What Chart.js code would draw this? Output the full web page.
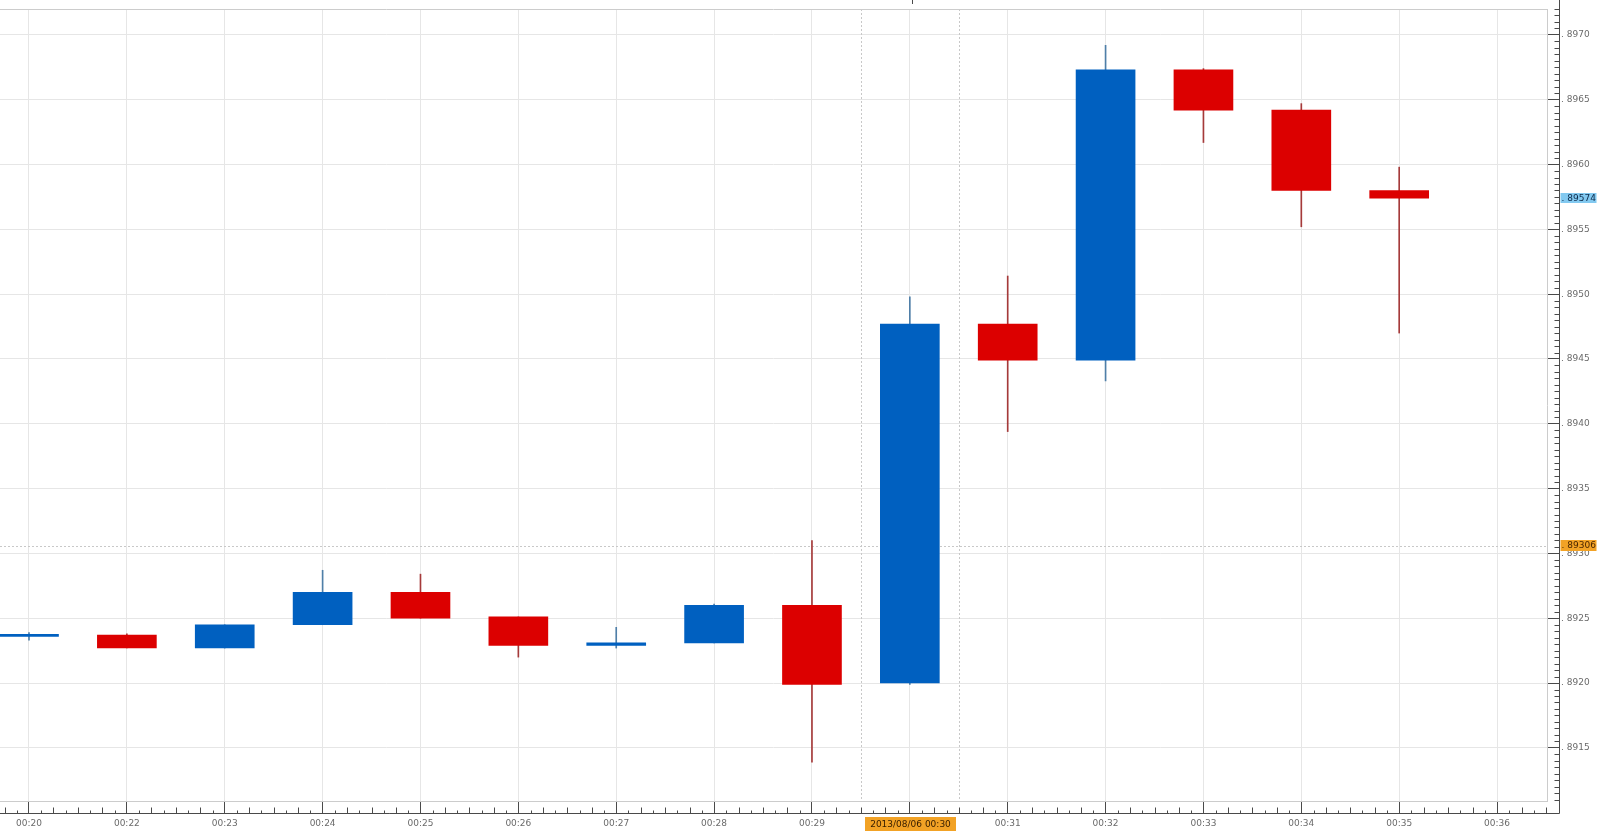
<!DOCTYPE html>
<html lang="en">
<head>
  <meta charset="UTF-8" />
  <title>EUR/GBP 1 min</title>
  <script src="https://cdn.jsdelivr.net/npm/chart.js"></script>
  <style>
    body { margin: 0; background: #fff; overflow: hidden; }
    canvas { display: block; }
  </style>
</head>
<body>
  <canvas id="chart" width="1600" height="832"></canvas>

  <script>
    // minute labels on the time axis (index 0 sits on the first candle)
    const times = ["00:20", "00:22", "00:23", "00:24", "00:25", "00:26", "00:27", "00:28",
                   "00:29", "00:30", "00:31", "00:32", "00:33", "00:34", "00:35", "00:36"];

    const open  = [0.89236, 0.89237, 0.89227, 0.89245, 0.89270, 0.89251, 0.89229, 0.89231,
                   0.89260, 0.89200, 0.89477, 0.89449, 0.89673, 0.89642, 0.89580];
    const close = [0.89236, 0.89227, 0.89245, 0.89270, 0.89250, 0.89229, 0.89231, 0.89260,
                   0.89199, 0.89477, 0.89449, 0.89673, 0.89642, 0.89580, 0.89574];
    const high  = [0.89239, 0.89238, 0.89245, 0.89287, 0.89284, 0.89251, 0.89243, 0.89261,
                   0.89310, 0.89498, 0.89514, 0.89692, 0.89674, 0.89647, 0.89598];
    const low   = [0.89233, 0.89227, 0.89227, 0.89245, 0.89250, 0.89220, 0.89227, 0.89231,
                   0.89139, 0.89199, 0.89394, 0.89433, 0.89617, 0.89552, 0.89470];

    // crosshair position and its labels
    const crossIndex = 9;
    const crossPrice = 0.89306;
    const crossTime = "2013/08/06 00:30";
    const lastPrice = close[close.length - 1];

    const UP = "#0060c0", DOWN = "#dc0000";
    const UP_WICK = "#4f7fa8", DOWN_WICK = "#a53a3a";
    const TICK = 12;

    const isUp = close.map((c, i) => c >= open[i]);
    const fmtPrice = (v, d) => ". " + v.toFixed(d).slice(2);

    const extras = {
      id: "extras",
      beforeDatasetsDraw(chart) {
        const { ctx, chartArea: a, scales: { x, y } } = chart;
        ctx.save();
        ctx.strokeStyle = "#c8c8c8";
        ctx.lineWidth = 1;
        ctx.setLineDash([2, 2]);
        ctx.beginPath();
        const cy = Math.round(y.getPixelForValue(crossPrice)) + 0.5;
        ctx.moveTo(a.left, cy);
        ctx.lineTo(a.right, cy);
        [crossIndex - 0.5, crossIndex + 0.5].forEach(v => {
          const px = Math.round(x.getPixelForValue(v)) + 0.5;
          ctx.moveTo(px, a.top);
          ctx.lineTo(px, a.bottom);
        });
        ctx.stroke();
        ctx.restore();
      },
      afterDraw(chart) {
        const { ctx, chartArea: a, scales: { x, y } } = chart;
        const axX = a.right + TICK + 0.5;
        const axY = a.bottom + TICK + 0.5;
        ctx.save();
        ctx.lineWidth = 1;

        // top frame
        ctx.strokeStyle = "#cccccc";
        ctx.beginPath();
        ctx.moveTo(a.left, a.top + 0.5);
        ctx.lineTo(a.right, a.top + 0.5);
        ctx.stroke();

        // outer axis lines and minor ticks
        ctx.strokeStyle = "#4a4a4a";
        ctx.beginPath();
        ctx.moveTo(axX, 0);
        ctx.lineTo(axX, axY);
        ctx.lineTo(0, axY);
        for (let i = Math.ceil(x.min * 8); i <= Math.floor(x.max * 8); i++) {
          if (i % 8 === 0) continue;
          const px = Math.round(x.getPixelForValue(i / 8)) + 0.5;
          ctx.moveTo(px, axY);
          ctx.lineTo(px, axY - (i % 2 === 0 ? 6 : 3));
        }
        for (let i = Math.ceil(y.min / 0.00005); i <= Math.floor(y.max / 0.00005); i++) {
          if (i % 10 === 0) continue;
          const py = Math.round(y.getPixelForValue(i * 0.00005)) + 0.5;
          ctx.moveTo(axX, py);
          ctx.lineTo(axX - 5, py);
        }
        // small crosshair marker at the top
        const mx = Math.round(x.getPixelForValue(crossIndex)) + 2.5;
        ctx.moveTo(mx, 0);
        ctx.lineTo(mx, 4);
        ctx.stroke();

        // price and time boxes
        ctx.font = "9px 'DejaVu Sans'";
        ctx.textBaseline = "middle";
        const box = (bx, cy, w, h, fill, text, color, align) => {
          ctx.fillStyle = fill;
          ctx.fillRect(bx, Math.round(cy - h / 2), w, h);
          ctx.fillStyle = color;
          ctx.textAlign = align;
          ctx.fillText(text, align === "center" ? bx + w / 2 : bx + 1, cy + 0.5);
        };
        box(axX + 1, y.getPixelForValue(lastPrice), 36, 10, "#82c9f0", fmtPrice(lastPrice, 5), "#0d2a4a", "left");
        box(axX + 1, y.getPixelForValue(crossPrice), 36, 11, "#f2a225", fmtPrice(crossPrice, 5), "#4a2600", "left");
        const tx = x.getPixelForValue(crossIndex);
        box(Math.round(tx - 45), a.bottom + 23, 91, 14, "#f2a225", crossTime, "#3a2000", "center");
        ctx.restore();
      }
    };

    const noPad = s => { s.paddingLeft = 0; s.paddingRight = 0; s.paddingTop = 0; s.paddingBottom = 0; };

    new Chart(document.getElementById("chart"), {
      type: "bar",
      data: {
        datasets: [
          {
            label: "body",
            data: open.map((o, i) => ({ x: i, y: [o, close[i]] })),
            backgroundColor: isUp.map(u => u ? UP : DOWN),
            barThickness: 59,
            minBarLength: 2,
            grouped: false
          },
          {
            label: "wick",
            data: low.map((l, i) => ({ x: i, y: [l, high[i]] })),
            backgroundColor: isUp.map(u => u ? UP_WICK : DOWN_WICK),
            barThickness: 1,
            grouped: false
          }
        ]
      },
      options: {
        responsive: false,
        animation: false,
        layout: { padding: { top: 9, left: 0, right: 0, bottom: 0 } },
        plugins: { legend: { display: false }, tooltip: { enabled: false } },
        scales: {
          x: {
            type: "linear",
            position: "bottom",
            min: -0.2963,
            max: 15.5103,
            offset: false,
            grid: { offset: false, color: "#e6e6e6", tickColor: "#4a4a4a", tickLength: TICK },
            border: { color: "#cccccc" },
            ticks: {
              stepSize: 1,
              includeBounds: false,
              maxTicksLimit: 30,
              autoSkip: false,
              maxRotation: 0,
              padding: 5,
              color: "#6a6a6a",
              font: { family: "DejaVu Sans", size: 9 },
              callback: v => (Number.isInteger(v) && v !== crossIndex ? (times[v] || "") : "")
            },
            afterFit: s => { s.height = 31; noPad(s); }
          },
          y: {
            type: "linear",
            position: "right",
            min: 0.89109,
            max: 0.89720,
            grid: { color: "#e6e6e6", tickColor: "#4a4a4a", tickLength: TICK },
            border: { color: "#cccccc" },
            ticks: {
              stepSize: 0.0005,
              includeBounds: false,
              maxTicksLimit: 20,
              padding: 2,
              color: "#6a6a6a",
              font: { family: "DejaVu Sans", size: 9 },
              callback: v => fmtPrice(v, 4)
            },
            afterFit: s => { s.width = 53; noPad(s); }
          }
        }
      },
      plugins: [extras]
    });
  </script>
</body>
</html>
